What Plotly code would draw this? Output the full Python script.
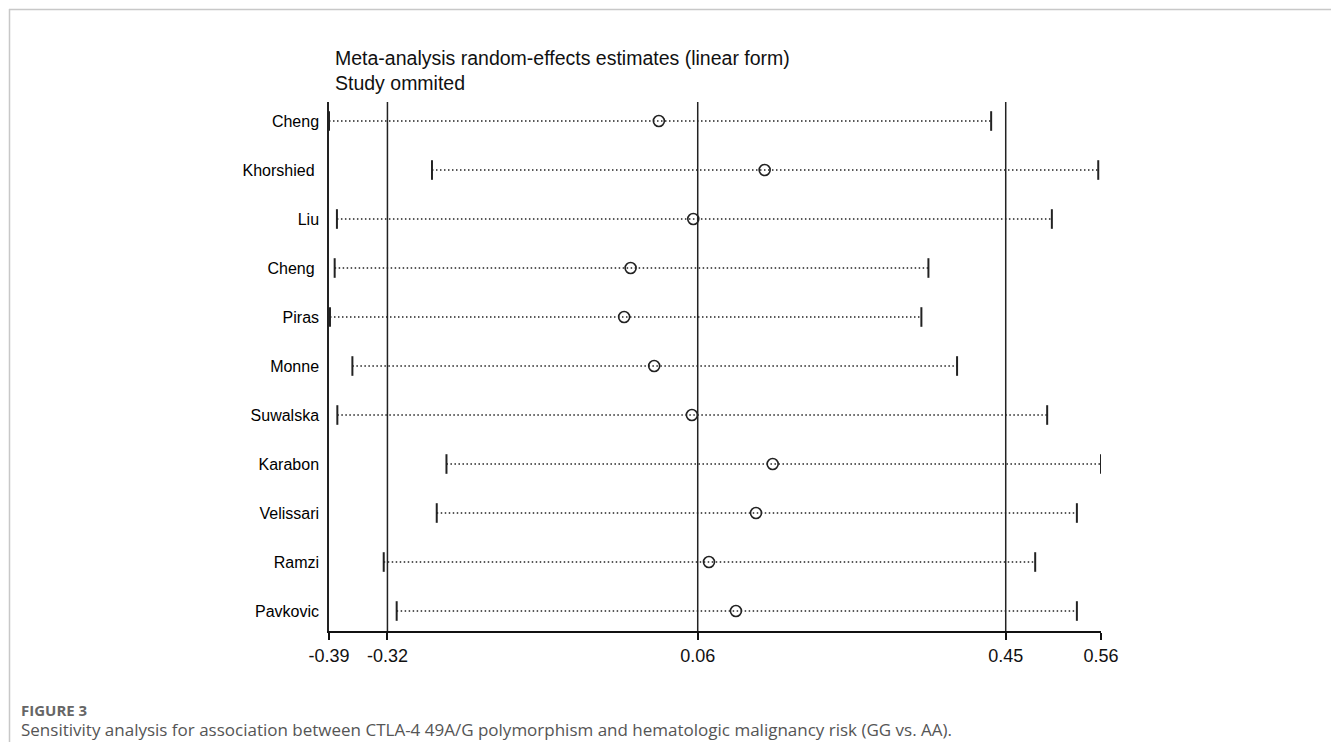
import plotly.graph_objects as go

# ---- data ----
studies = ["Cheng", "Khorshied\u00a0", "Liu", "Cheng\u00a0", "Piras", "Monne",
           "Suwalska", "Karabon", "Velissari", "Ramzi", "Pavkovic"]
estimate = [0.0159, 0.1466, 0.0584, -0.0190, -0.0270, 0.0101,
            0.0567, 0.1565, 0.1359, 0.0778, 0.1111]
lower_ci = [-0.3916, -0.2644, -0.3818, -0.3846, -0.3904, -0.3627,
            -0.3813, -0.2465, -0.2585, -0.3240, -0.3080]
upper_ci = [0.4264, 0.5587, 0.5014, 0.3489, 0.3402, 0.3843,
            0.4956, 0.5621, 0.5323, 0.4808, 0.5323]
overall = [-0.3194, 0.0639, 0.4444]   # overall lower CI, estimate, upper CI
tick_text = ["-0.39", "-0.32", "0.06", "0.45", "0.56"]

title_lines = ["Meta-analysis random-effects estimates (linear form)", "Study ommited"]
fig_label = "FIGURE 3"
caption = ("Sensitivity analysis for association between CTLA-4 49A/G polymorphism "
           "and hematologic malignancy risk (GG vs. AA).")

# ---- layout geometry ----
W, H = 1331, 742
L, R, T, B = 329, 230, 102, 111
PW, PH = W - L - R, H - T - B

def px(x):
    return (x - L) / PW

def py(y):
    return (H - B - y) / PH

xmin, xmax = min(lower_ci), max(upper_ci)
rows = list(range(len(studies)))

fig = go.Figure()

# dotted CI lines
seg_x, seg_y = [], []
for i in rows:
    seg_x += [lower_ci[i], upper_ci[i], None]
    seg_y += [i, i, None]
fig.add_trace(go.Scatter(x=seg_x, y=seg_y, mode="lines",
                         line=dict(color="#222222", width=1.4, dash="1.5px,2.5px"),
                         hoverinfo="skip", showlegend=False))

# CI end caps
fig.add_trace(go.Scatter(x=lower_ci + upper_ci, y=rows + rows, mode="markers",
                         marker=dict(symbol="line-ns", size=14,
                                     line=dict(color="#222222", width=2)),
                         hoverinfo="skip", showlegend=False))

# point estimates
fig.add_trace(go.Scatter(x=estimate, y=rows, mode="markers",
                         marker=dict(symbol="circle-open", size=11, color="#222222",
                                     line=dict(color="#222222", width=1.6)),
                         showlegend=False))

# vertical reference lines (overall CI and estimate)
for v in overall:
    fig.add_shape(type="line", xref="x", yref="paper", x0=v, x1=v, y0=0, y1=1,
                  line=dict(color="#222222", width=1.5), layer="below")

# figure frame (top and left light-gray border)
fig.add_shape(type="line", xref="paper", yref="paper",
              x0=px(9), x1=px(W), y0=py(9.5), y1=py(9.5),
              line=dict(color="#c8c8c8", width=1.5))
fig.add_shape(type="line", xref="paper", yref="paper",
              x0=px(9.5), x1=px(9.5), y0=py(9), y1=py(H),
              line=dict(color="#c8c8c8", width=1.5))

# titles
fig.add_annotation(text=title_lines[0], xref="paper", yref="paper",
                   x=px(333), y=py(58), xanchor="left", yanchor="middle",
                   showarrow=False, font=dict(family="Liberation Sans, Arial", size=19.5, color="#111111"))
fig.add_annotation(text=title_lines[1], xref="paper", yref="paper",
                   x=px(333), y=py(83), xanchor="left", yanchor="middle",
                   showarrow=False, font=dict(family="Liberation Sans, Arial", size=19.5, color="#111111"))

# caption
fig.add_annotation(text="<b>" + fig_label + "</b>", xref="paper", yref="paper",
                   x=px(19), y=py(710), xanchor="left", yanchor="middle",
                   showarrow=False, font=dict(family="Open Sans", size=15, color="#666666"))
fig.add_annotation(text=caption, xref="paper", yref="paper",
                   x=px(19), y=py(729), xanchor="left", yanchor="middle",
                   showarrow=False, font=dict(family="Open Sans", size=17, color="#555555"))

fig.update_layout(
    width=W, height=H,
    margin=dict(l=L, r=R, t=T, b=B, pad=0),
    paper_bgcolor="white", plot_bgcolor="white",
    xaxis=dict(range=[xmin, xmax], tickvals=[xmin] + overall + [xmax],
               ticktext=tick_text, showgrid=False, zeroline=False,
               showline=True, linecolor="#111111", linewidth=2,
               ticks="outside", ticklen=7, tickwidth=1.5, tickcolor="#111111",
               tickfont=dict(family="Liberation Sans, Arial", size=18, color="#111111")),
    yaxis=dict(range=[len(studies) - 1 + 0.408, -0.388], tickvals=rows,
               ticktext=studies, showgrid=False, zeroline=False,
               showline=True, linecolor="#222222", linewidth=1.5,
               ticks="", ticklabelstandoff=5,
               tickfont=dict(family="Liberation Sans, Arial", size=16, color="#000000")),
)

fig.write_html("out.html", config={"displayModeBar": False},
               post_script="document.body.style.margin='0';document.body.style.overflow='hidden';")
